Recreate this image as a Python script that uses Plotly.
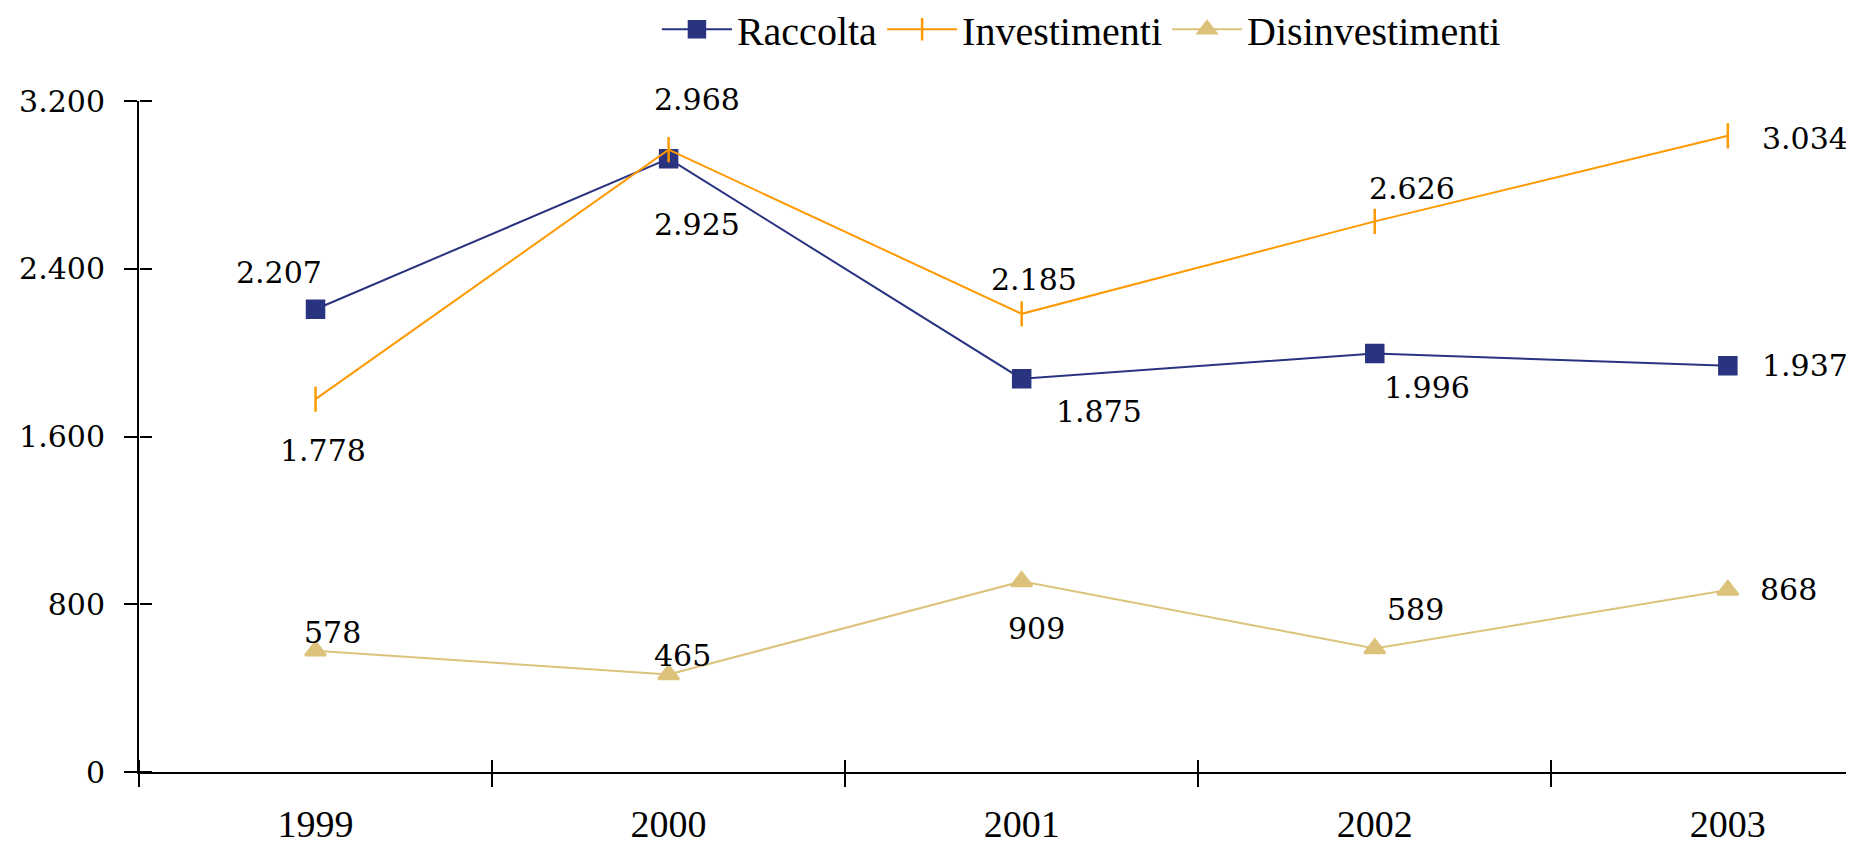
import plotly.graph_objects as go

years = ["1999", "2000", "2001", "2002", "2003"]
raccolta = [2207, 2925, 1875, 1996, 1937]
investimenti = [1778, 2968, 2185, 2626, 3034]
disinvestimenti = [578, 465, 909, 589, 868]

y_ticks = [0, 800, 1600, 2400, 3200]
y_tick_text = ["0", "800", "1.600", "2.400", "3.200"]

series = [
    ("Raccolta", raccolta, "#29337F", "square", 17),
    ("Investimenti", investimenti, "#FF9900", "line-ns", 18),
    ("Disinvestimenti", disinvestimenti, "#DCC27A", "triangle-up", 18),
]

# label offsets (xshift, yshift) in pixels, per series
label_offsets = {
    "Raccolta": [(-37, 37), (28, -66), (77, -33), (52, -34), (77, 0)],
    "Investimenti": [(7, -51), (28, 50), (12, 34), (37, 33), (77, -3)],
    "Disinvestimenti": [(17, 18), (14, 19), (15, -47), (41, 39), (61, 0)],
}

def fmt(v):
    return f"{v:,}".replace(",", ".")

fig = go.Figure()
for name, vals, color, sym, size in series:
    fig.add_trace(go.Scatter(
        x=years, y=vals, name=name, mode="lines+markers",
        line=dict(color=color, width=2),
        marker=dict(symbol=sym, size=size, color=color,
                    line=dict(color=color, width=2.5)),
        cliponaxis=False,
    ))

# invisible trace to drive the overlay axes (for ticks crossing the axis lines)
fig.add_trace(go.Scatter(x=years, y=raccolta, xaxis="x2", yaxis="y2",
                         mode="markers", marker=dict(opacity=0),
                         showlegend=False, hoverinfo="skip"))

annotations = []
for name, vals, color, sym, size in series:
    for i, (v, (dx, dy)) in enumerate(zip(vals, label_offsets[name])):
        annotations.append(dict(
            x=i, y=v, xref="x", yref="y", text=fmt(v), showarrow=False,
            xshift=dx, yshift=dy,
            font=dict(family="DejaVu Serif", size=30, color="#000000"),
        ))

xr = [-0.5, 4.38]
fig.update_layout(
    width=1854, height=845,
    margin=dict(l=131, r=0, t=93, b=81, autoexpand=False),
    paper_bgcolor="white", plot_bgcolor="white",
    showlegend=True,
    legend=dict(orientation="h", x=0.3006, y=1.107, xanchor="left", yanchor="middle",
                font=dict(family="Liberation Serif", size=40, color="#000000"),
                itemwidth=70, tracegroupgap=0, bgcolor="rgba(0,0,0,0)"),
    xaxis=dict(type="category", categoryorder="array", categoryarray=years,
               range=xr, tickson="boundaries", ticks="outside", ticklen=13,
               tickwidth=1.5, tickcolor="#000", showline=True, linecolor="#000",
               linewidth=2, showgrid=False, zeroline=False,
               tickfont=dict(family="Liberation Serif", size=38, color="#000"),
               ticklabelstandoff=17),
    xaxis2=dict(type="category", categoryorder="array", categoryarray=years,
                range=xr, tickson="boundaries", ticks="outside", ticklen=12,
                tickwidth=1.5, tickcolor="#000", overlaying="x", side="top",
                anchor="free", position=0,
                showticklabels=False, showgrid=False, showline=False, zeroline=False),
    yaxis=dict(range=[0, 3200], tickvals=y_ticks, ticktext=y_tick_text,
               ticks="outside", ticklen=13, tickwidth=1.5, tickcolor="#000",
               showline=True, linecolor="#000", linewidth=2, showgrid=False,
               zeroline=False,
               tickfont=dict(family="DejaVu Serif", size=30, color="#000"),
               ticklabelstandoff=13),
    yaxis2=dict(range=[0, 3200], tickvals=y_ticks, ticks="outside", ticklen=12,
                tickwidth=1.5, tickcolor="#000", overlaying="y", side="right",
                anchor="free", position=0,
                showticklabels=False, showgrid=False, showline=False, zeroline=False),
    annotations=annotations,
)

fig.write_html("out.html")
